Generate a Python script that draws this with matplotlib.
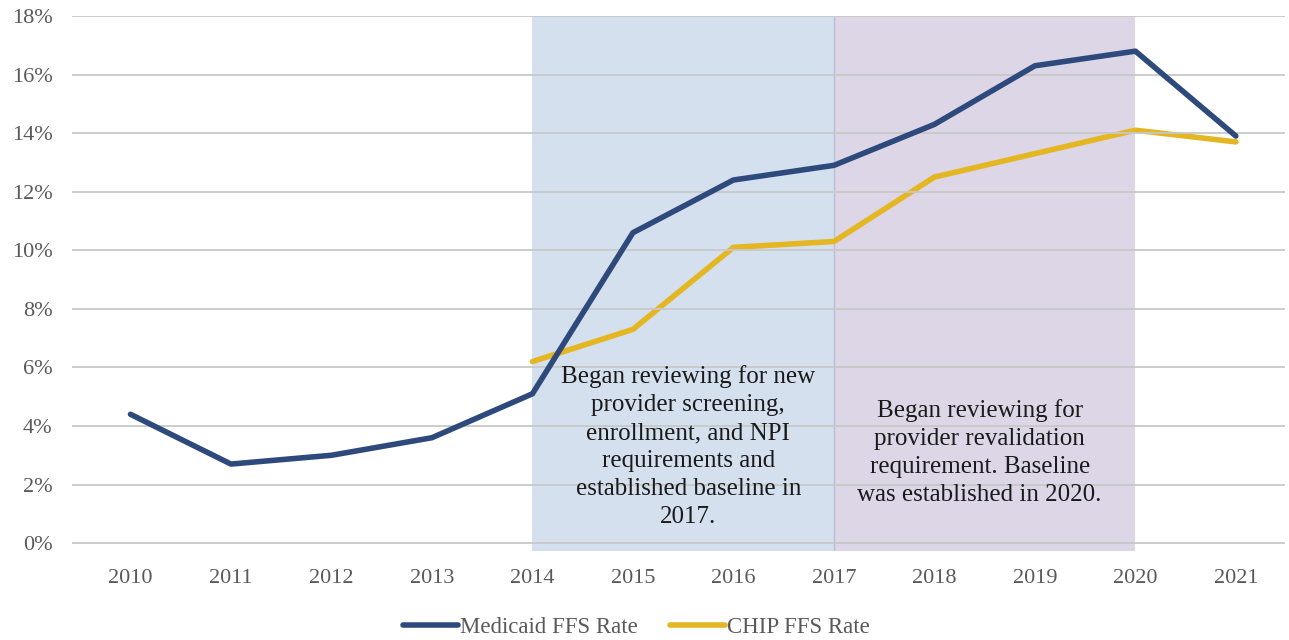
import numpy as np
import matplotlib.pyplot as plt
from matplotlib.ticker import FuncFormatter

# 数据
years = ['2010', '2011', '2012', '2013', '2014', '2015', '2016', '2017', '2018', '2019', '2020', '2021']
medicaid = [4.4, 2.7, 3.0, 3.6, 5.1, 10.6, 12.4, 12.9, 14.3, 16.3, 16.8, 13.9]
chip_years = ['2014', '2015', '2016', '2017', '2018', '2019', '2020', '2021']
chip = [6.2, 7.3, 10.1, 10.3, 12.5, 13.3, 14.1, 13.7]

note_1 = 'Began reviewing for new\nprovider screening,\nenrollment, and NPI\nrequirements and\nestablished baseline in\n2017.'
note_2 = 'Began reviewing for\nprovider revalidation\nrequirement. Baseline\nwas established in 2020.'


def main():
    plt.rcParams['font.family'] = ['Liberation Serif', 'DejaVu Serif']
    fig = plt.figure(figsize=(12.89, 6.4), dpi=100)
    ax = fig.add_axes([0.056, 0.139, 0.941, 0.836])

    x = np.arange(len(years))
    x_chip = np.array([years.index(y) for y in chip_years])

    # 背景色块
    ax.axvspan(years.index('2014'), years.index('2017'), color='#d5e0ee', zorder=0, lw=0)
    ax.axvspan(years.index('2017'), years.index('2020'), color='#ddd6e6', zorder=0, lw=0)
    ax.axvline(years.index('2017'), color='#b8bfd6', lw=1, zorder=0.5)

    ax.plot(x, medicaid, color='#2e4a7c', lw=4, label='Medicaid FFS Rate', zorder=3,
            solid_capstyle='round', solid_joinstyle='round')
    ax.plot(x_chip, chip, color='#e4b622', lw=4, label='CHIP FFS Rate', zorder=2,
            solid_capstyle='round', solid_joinstyle='round')

    ax.set_ylim(-0.27, 18)
    ax.set_xlim(-0.58, 11.49)
    ax.set_yticks(np.arange(0, 19, 2))
    ax.yaxis.set_major_formatter(FuncFormatter(lambda v, p: f'{v:.0f}%'))
    ax.set_xticks(x)
    ax.set_xticklabels(years)
    ax.grid(axis='y', color='#c8c8c8', lw=1.3, zorder=1)
    ax.set_axisbelow(False)
    for s in ax.spines.values():
        s.set_visible(False)
    ax.tick_params(length=0, colors='#595959', labelsize=16)
    ax.tick_params(axis='x', pad=13)
    ax.tick_params(axis='y', pad=14)

    ax.text(5.55, 3.29, note_1, ha='center', va='center', fontsize=18, color='#1a1a1a',
            linespacing=1.35, zorder=4)
    ax.text(8.45, 3.1, note_2, ha='center', va='center', fontsize=18, color='#1a1a1a',
            linespacing=1.35, zorder=4)

    ax.legend(loc='center', bbox_to_anchor=(0.465, -0.142), ncol=2, frameon=False,
              fontsize=16.5, labelcolor='#595959', handlelength=2.4, handletextpad=0.1,
              columnspacing=1.4, borderpad=0.2)

    fig.savefig('out.png', dpi=100)


if __name__ == "__main__":
    main()
